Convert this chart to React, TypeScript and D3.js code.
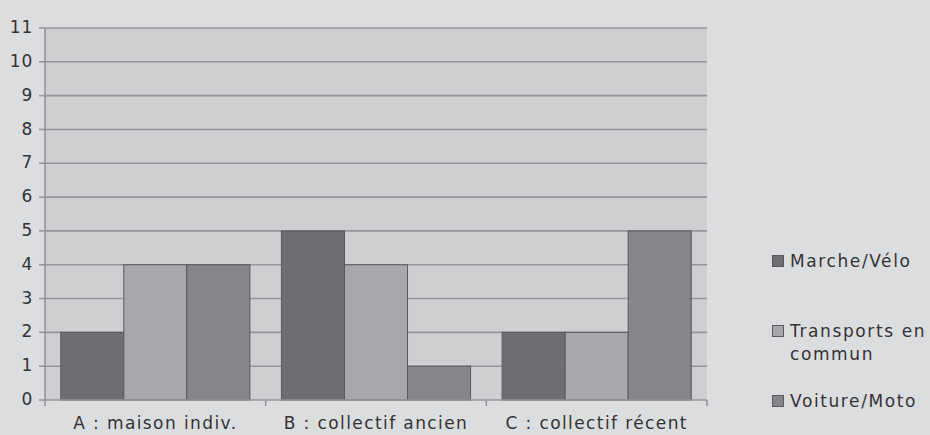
import React from "react";
import * as d3 from "d3";

const categories = ["A : maison indiv.", "B : collectif ancien", "C : collectif récent"];
const seriesNames = ["Marche/Vélo", "Transports en commun", "Voiture/Moto"];
const marcheVelo = [2, 5, 2];
const transports = [4, 4, 2];
const voiture = [4, 1, 5];
const yTicks = [0, 1, 2, 3, 4, 5, 6, 7, 8, 9, 10, 11];
const colors = ["#6d6e71", "#a7a8ab", "#85868a"];
const legendLines = [["Marche/Vélo"], ["Transports en", "commun"], ["Voiture/Moto"]];

const W = 930, H = 435;
const left = 45, right = 707, top = 28, bottom = 400;
const FONT = "'DejaVu Sans', sans-serif";

export default function App() {
  const series = [marcheVelo, transports, voiture];
  const x0 = d3.scaleBand<string>().domain(categories).range([left, right]).paddingInner(0).paddingOuter(0);
  const x1 = d3.scaleBand<string>().domain(seriesNames).range([0, x0.bandwidth()]).paddingInner(0).paddingOuter(0.25);
  const y = d3.scaleLinear().domain([0, 11]).range([bottom, top]);
  const boundaries = [...categories.map((c) => x0(c)!), right];

  return (
    <svg width={W} height={H} style={{ position: "absolute", left: 0, top: 0, display: "block" }}>
      <rect x={0} y={0} width={W} height={H} fill="#dcdddf" />
      <rect x={left} y={top} width={right - left} height={bottom - top} fill="#cfcfd1" />
      {yTicks.map((t) => (
        <g key={t}>
          {t > 0 && <line x1={left} x2={right} y1={y(t)} y2={y(t)} stroke="#959699" strokeWidth={1.6} />}
          <line x1={left - 6} x2={left} y1={y(t)} y2={y(t)} stroke="#959699" strokeWidth={1.6} />
          <text x={33} y={y(t)} dy="0.3em" textAnchor="end" fontFamily={FONT} fontSize={17} letterSpacing={0.8} fill="#333335">
            {t}
          </text>
        </g>
      ))}
      {categories.map((c, ci) =>
        series.map((s, si) => (
          <rect
            key={`${ci}-${si}`}
            x={x0(c)! + x1(seriesNames[si])!}
            y={y(s[ci])}
            width={x1.bandwidth()}
            height={y(0) - y(s[ci])}
            fill={colors[si]}
            stroke="#58595c"
            strokeWidth={1}
          />
        ))
      )}
      <line x1={left} x2={left} y1={top} y2={bottom} stroke="#959699" strokeWidth={1.6} />
      <line x1={left} x2={right} y1={bottom} y2={bottom} stroke="#959699" strokeWidth={1.6} />
      {boundaries.map((b, i) => (
        <line key={i} x1={b} x2={b} y1={bottom} y2={bottom + 6} stroke="#959699" strokeWidth={1.6} />
      ))}
      {categories.map((c) => (
        <text key={c} x={x0(c)! + x0.bandwidth() / 2} y={429} textAnchor="middle" fontFamily={FONT} fontSize={17} letterSpacing={1.4} fill="#333335">
          {c}
        </text>
      ))}
      {legendLines.map((lines, i) => {
        const base = [267, 337, 407][i];
        return (
          <g key={i}>
            <rect x={772.5} y={base - 11.5} width={11} height={11} fill={colors[i]} stroke="#58595c" strokeWidth={1} />
            {lines.map((l, li) => (
              <text key={li} x={790} y={base + li * 23} fontFamily={FONT} fontSize={17} letterSpacing={1.6} fill="#333335">
                {l}
              </text>
            ))}
          </g>
        );
      })}
    </svg>
  );
}
